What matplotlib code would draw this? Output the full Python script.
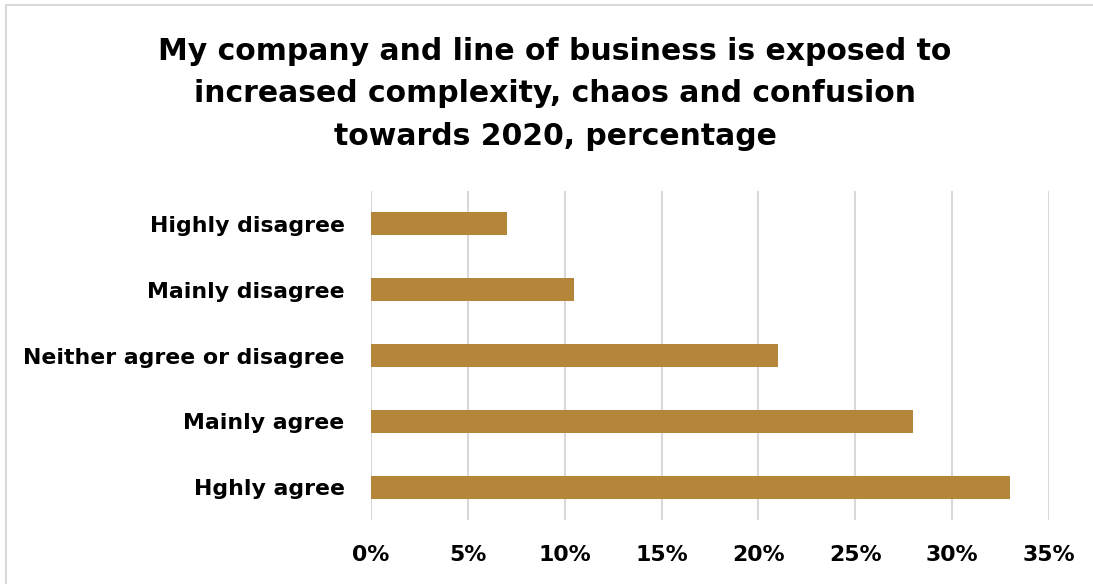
import matplotlib.pyplot as plt
from matplotlib.patches import Rectangle

categories = [
    "Highly disagree",
    "Mainly disagree",
    "Neither agree or disagree",
    "Mainly agree",
    "Hghly agree",
]
shares = [7, 10.5, 21, 28, 33]
ticks = [0, 5, 10, 15, 20, 25, 30, 35]
title = ("My company and line of business is exposed to\n"
         "increased complexity, chaos and confusion\n"
         "towards 2020, percentage")

bar_color = "#B5853A"
grid_color = "#D9D9D9"
font = "DejaVu Sans"

fig = plt.figure(figsize=(10.93, 5.84), dpi=100)
fig.patch.set_facecolor("white")

# light frame around the chart area
fig.patches.append(Rectangle((6 / 1093, -0.05), 1.2, (584 - 5) / 584 + 0.05,
                             transform=fig.transFigure, fill=False,
                             edgecolor="#D9D9D9", linewidth=1.5))

ax = fig.add_axes([371 / 1093, 64 / 584, 678 / 1093, 329 / 584])
y = list(range(len(categories)))[::-1]
ax.barh(y, shares, height=0.35, color=bar_color, zorder=3)

ax.set_xlim(0, 35)
ax.set_ylim(-0.5, len(categories) - 0.5)
ax.set_xticks(ticks)
ax.set_xticklabels([f"{t}%" for t in ticks])
ax.set_yticks(y)
ax.set_yticklabels(categories)
ax.grid(axis="x", color=grid_color, linewidth=1.5, zorder=0)
for side in ax.spines.values():
    side.set_visible(False)
ax.tick_params(length=0)
ax.tick_params(axis="x", pad=18)
ax.tick_params(axis="y", pad=19)
for lab in ax.get_xticklabels() + ax.get_yticklabels():
    lab.set_fontfamily(font)
    lab.set_fontweight("bold")
    lab.set_fontsize(15.8)

fig.text(555 / 1093, 1 - 94 / 584, title, ha="center", va="center",
         fontsize=21.5, fontweight="bold", family=font, linespacing=1.57)

fig.savefig("out.png", dpi=100)
